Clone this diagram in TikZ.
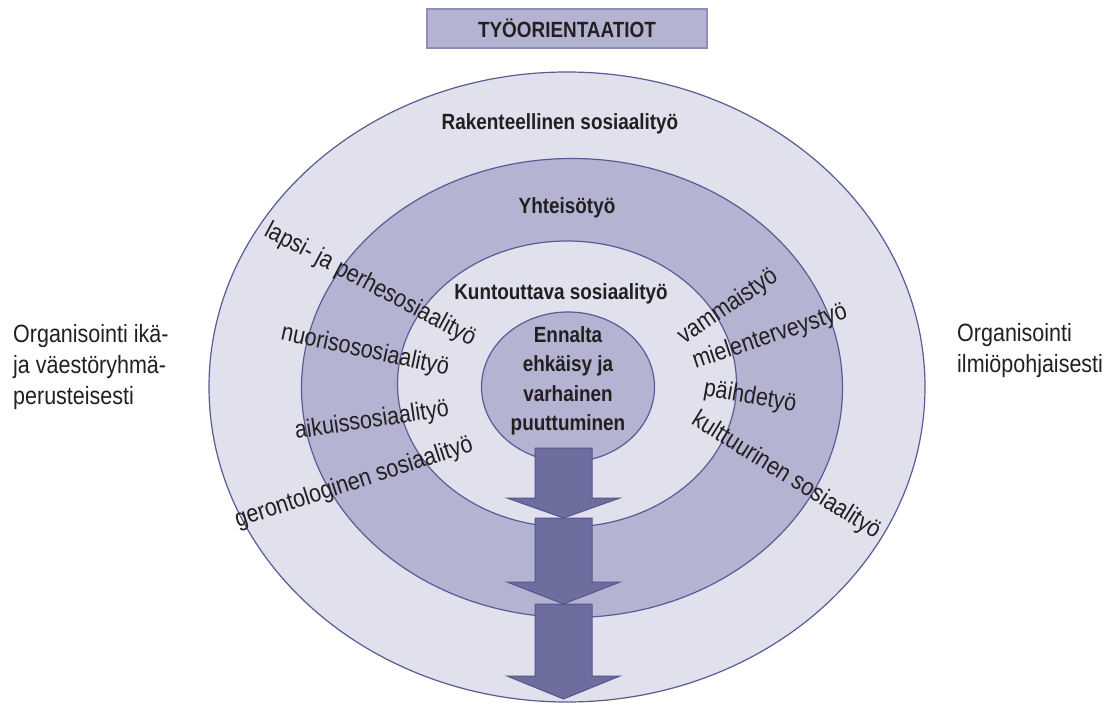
\documentclass[tikz,border=0pt]{standalone}
\usepackage{fontspec}
\setmainfont{Liberation Sans}[FakeStretch=0.86]
\usepackage{tikz}
\usetikzlibrary{shapes.geometric}
\usetikzlibrary{positioning}
\usepackage{xcolor}
\definecolor{pale}{HTML}{E1E0ED}
\definecolor{ring}{HTML}{B4B4D2}
\definecolor{rim}{HTML}{5A5A96}
\definecolor{headrim}{HTML}{8E8EBA}
\definecolor{flow}{HTML}{6E6E9E}
\definecolor{flowrim}{HTML}{55558E}
\definecolor{ink}{HTML}{231F20}
\tikzset{
  % Common styles for the rings and their labels
  zone/.style={draw=rim, line width=1.2pt, ellipse, inner sep=0pt, outer sep=0pt, fill=#1},
  zonetitle/.style={font=\fontsize{22}{26}\selectfont\bfseries, text=ink, inner sep=0pt},
  branch/.style={font=\fontsize{25}{31}\selectfont, text=ink, inner sep=0pt},
  flowarrow/.style={draw=flowrim, line width=1pt, fill=flow, line join=miter}
}

\begin{document}
\begin{tikzpicture}[x=1pt, y=-1pt]
    \useasboundingbox (0,0) rectangle (1111,703);
    % Define styles
    \tikzstyle{heading} = [rectangle, draw=headrim, fill=ring, line width=1.2pt, minimum width=280pt, minimum height=39pt, font=\fontsize{22}{26}\selectfont\bfseries, text=ink]

    % Place rings
    \node [zone=pale, minimum width=716pt, minimum height=630pt] (outer) at (567,387) {};
    \node [zone=ring, minimum width=541pt, minimum height=459pt] (middle) at (572,388) {};
    \node [zone=pale, minimum width=339pt, minimum height=286pt] (inner) at (567,384) {};
    \node [zone=ring, minimum width=173pt, minimum height=150pt] (core) at (568,387) {};

    % Draw arrows
    \foreach \ytop/\yneck/\ytip in {448/498/518, 518/582/604, 604/676/699} {
        \draw [flowarrow] (535,\ytop) -- (592,\ytop) -- (592,\yneck) -- (620,\yneck)
            -- (563.5,\ytip) -- (507,\yneck) -- (535,\yneck) -- cycle;
    }

    % Place titles
    \node [heading] (title) at (567,28.5) {TYÖORIENTAATIOT};
    \node [zonetitle] (structural) at (560,124) {Rakenteellinen sosiaalityö};
    \node [zonetitle] (community) at (567,208) {Yhteisötyö};
    \node [zonetitle] (rehab) at (561,294) {Kuntouttava sosiaalityö};
    \node [zonetitle, align=center, font=\fontsize{22}{29.5}\selectfont\bfseries] (prevent) at (568,381) {Ennalta\\ehkäisy ja\\varhainen\\puuttuminen};

    % Place branch labels
    \node [branch, rotate=-28] (family) at (370,285) {lapsi- ja perhesosiaalityö};
    \node [branch, rotate=-12] (youth) at (365,351) {nuorisososiaalityö};
    \node [branch, rotate=8.5] (adult) at (372,421) {aikuissosiaalityö};
    \node [branch, rotate=18] (elderly) at (354,483) {gerontologinen sosiaalityö};
    \node [branch, rotate=34] (disability) at (728,307) {vammaistyö};
    \node [branch, rotate=18.5] (mental) at (770,337) {mielenterveystyö};
    \node [branch, rotate=-10] (substance) at (750,397) {päihdetyö};
    \node [branch, rotate=-32] (culture) at (786,476) {kulttuurinen sosiaalityö};

    % Place side labels
    \node [branch, align=left, anchor=west] (byage) at (13,367) {Organisointi ikä-\\ja väestöryhmä-\\perusteisesti};
    \node [branch, align=left, anchor=west] (byissue) at (957,351) {Organisointi\\ilmiöpohjaisesti};
\end{tikzpicture}
\end{document}
